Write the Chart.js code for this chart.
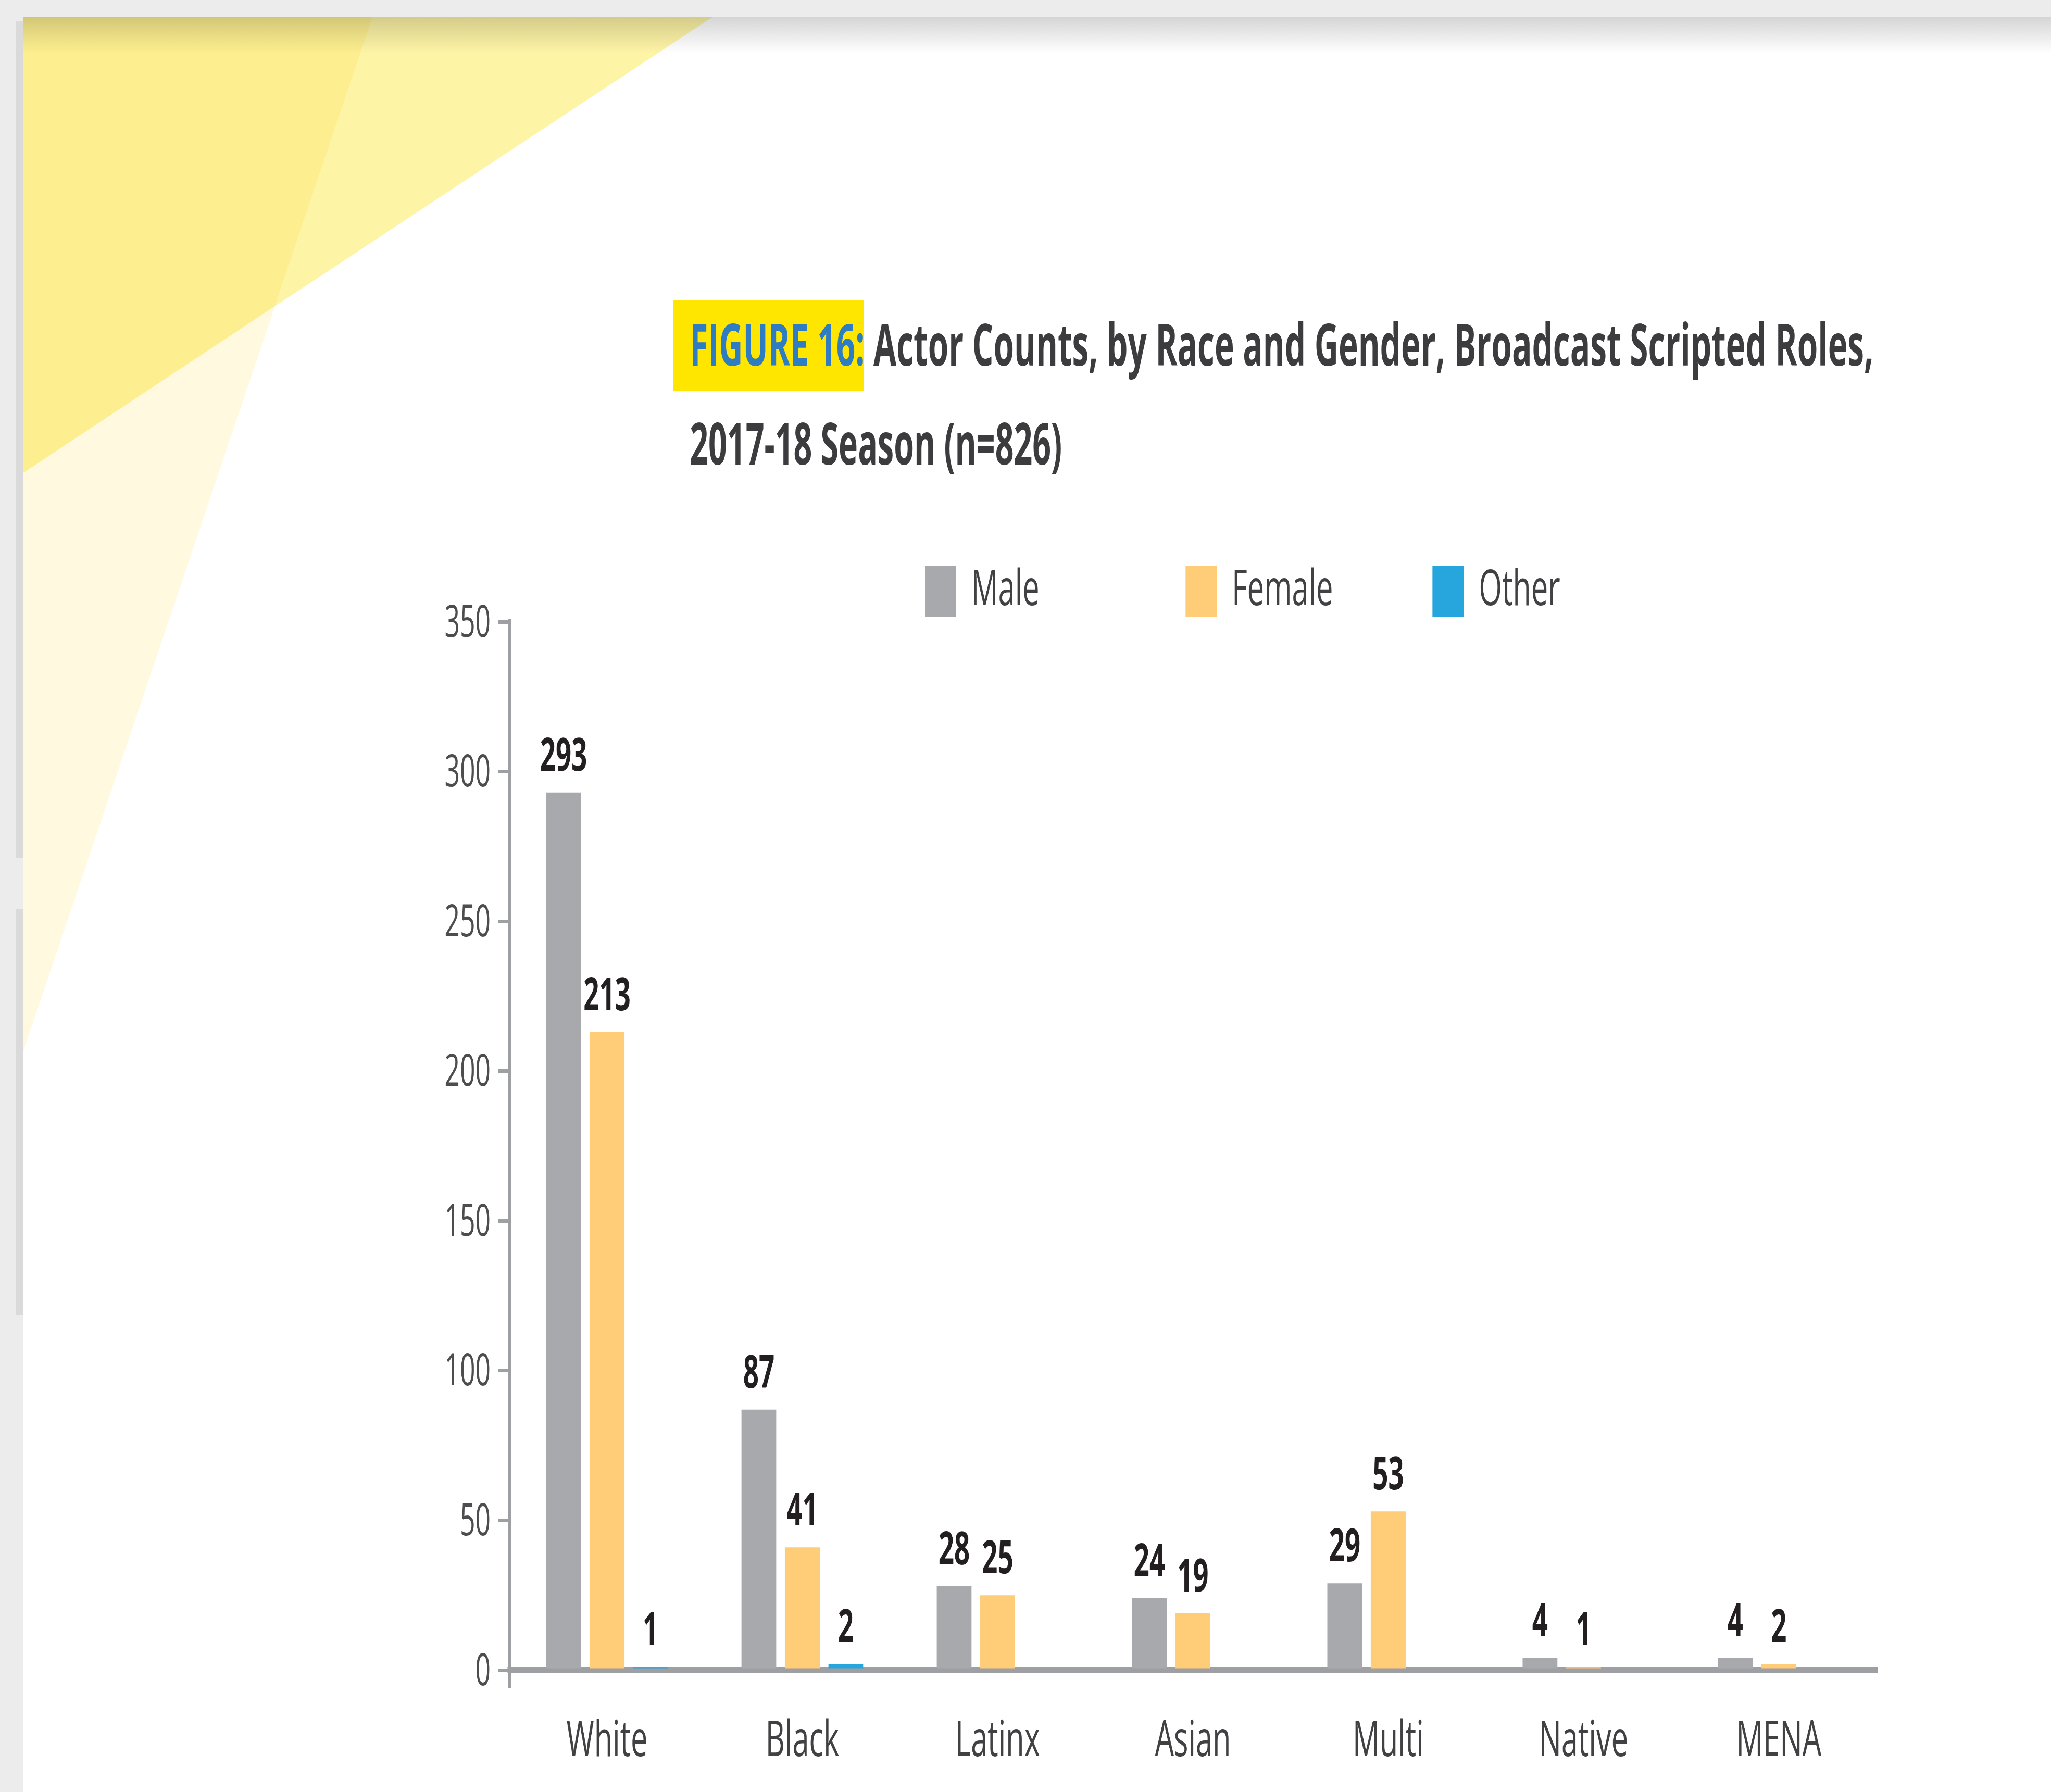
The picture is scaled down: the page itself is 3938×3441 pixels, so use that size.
<!DOCTYPE html>
<html>
<head>
<meta charset="utf-8">
<title>Figure 16: Actor Counts, by Race and Gender</title>
<script src="https://cdn.jsdelivr.net/npm/chart.js@4.4.1/dist/chart.umd.min.js"></script>
<style>
  html, body { margin: 0; padding: 0; }
  body { width: 3938px; height: 3441px; background: #ececec; position: relative; overflow: hidden; font-family: 'Open Sans', sans-serif; }
  #panel { position: absolute; left: 45px; top: 32px; right: 0; bottom: 0; background: #fff; }
  .edge { position: absolute; left: 30px; width: 15px; background: #dadada; }
  #deco { position: absolute; left: 0; top: 0; }
  #shade { position: absolute; left: 45px; right: 0; top: 32px; height: 70px; background: linear-gradient(rgba(0,0,0,0.17), rgba(0,0,0,0)); }
  #figbox { position: absolute; left: 1293px; top: 577px; width: 365px; height: 173px; background: #ffe600; }
  /* the whole chart is squeezed horizontally like the original figure */
  #stage { position: absolute; left: 0; top: 0; width: 6563px; height: 3441px; transform: scaleX(0.6); transform-origin: 0 0; }
  .tline { position: absolute; left: 2207px; white-space: nowrap; font-weight: 700; font-size: 112px; line-height: 112px; color: #3c3c3e; transform-origin: 0 0; }
  .tline .fig { color: #2e7dc2; }
  #chart { position: absolute; left: 0; top: 0; }
</style>
</head>
<body>
<div id="panel"></div>
<svg id="deco" width="3938" height="3441">
  <polygon points="45,32 716,32 528,588 45,908" fill="#fdef8f"/>
  <polygon points="716,32 1369,32 528,588" fill="#fef4a6"/>
  <polygon points="45,908 528,588 45,2018" fill="#fffadf"/>
</svg>
<div id="shade"></div>
<div class="edge" style="top:40px;height:1608px;"></div>
<div class="edge" style="top:1746px;height:780px;"></div>
<div id="figbox"></div>

<div id="stage">
  <canvas id="chart" width="6563" height="3441" style="width:6563px;height:3441px;"></canvas>
  <div class="tline" id="t1" style="top:603px;"><span class="fig">FIGURE 16:</span> Actor Counts, by Race and Gender, Broadcast Scripted Roles,</div>
  <div class="tline" id="t2" style="top:793px;">2017-18 Season (n=826)</div>
</div>

<script>
const categories = ['White', 'Black', 'Latinx', 'Asian', 'Multi', 'Native', 'MENA'];
const seriesNames = ['Male', 'Female', 'Other'];
const maleCounts = [293, 87, 28, 24, 29, 4, 4];
const femaleCounts = [213, 41, 25, 19, 53, 1, 2];
const otherCounts = [1, 2, 0, 0, 0, 0, 0];
const seriesColors = ['#a7a9ac', '#ffcc77', '#27a6de'];
const yTicks = [0, 50, 100, 150, 200, 250, 300, 350];

const SX = 0.6;                 // horizontal squeeze of #stage
const ux = px => px / SX;       // page px -> stage px (horizontal only)
const AXIS = '#9d9fa2';
const LEG_PAD = ux(191);
const PLOT_TOP = 1086;          // legend box top, page px

// fit the title lines to the widths of the original
function fitTitle() {
  [['t1', 3597 - 1324], ['t2', 2039 - 1324]].forEach(([id, w]) => {
    const el = document.getElementById(id);
    el.style.transform = 'scaleX(' + (ux(w) / el.offsetWidth) + ')';
  });
}
fitTitle();
if (document.fonts) document.fonts.ready.then(fitTitle);

// legend sits right of the plot centre in the original
const legendShift = {
  id: 'legendShift',
  afterLayout(chart, args, opts) {
    const lg = chart.legend;
    if (!lg || !lg.lineWidths) return;
    const pad = lg.options.labels.padding;
    const start = (lg.left + pad + lg.right - lg.lineWidths[0]) / 2;
    const dx = opts.left - start;
    lg.left += dx;
    lg.right += dx;
  }
};

const valueLabels = {
  id: 'valueLabels',
  afterDatasetsDraw(chart) {
    const ctx = chart.ctx;
    ctx.save();
    ctx.font = '700 88px "Open Sans"';
    ctx.fillStyle = '#231f20';
    ctx.textAlign = 'center';
    ctx.textBaseline = 'alphabetic';
    chart.data.datasets.forEach((ds, i) => {
      chart.getDatasetMeta(i).data.forEach((bar, j) => {
        const v = ds.data[j];
        if (!v) return;
        ctx.fillText(String(v), bar.x, bar.y - 42);
      });
    });
    ctx.restore();
  }
};

new Chart(document.getElementById('chart'), {
  type: 'bar',
  data: {
    labels: categories,
    datasets: [maleCounts, femaleCounts, otherCounts].map((d, i) => ({
      label: seriesNames[i],
      data: d,
      backgroundColor: seriesColors[i],
      categoryPercentage: 0.668,
      barPercentage: 0.8
    }))
  },
  options: {
    responsive: false,
    animation: false,
    devicePixelRatio: 1,
    layout: { padding: { left: 0, right: ux(3938 - 3603), top: PLOT_TOP - LEG_PAD, bottom: 0 } },
    plugins: {
      legend: {
        position: 'top',
        labels: {
          boxWidth: ux(60), boxHeight: 98, padding: LEG_PAD, color: '#414042',
          font: { family: 'Open Sans', size: 96 },
          // first item gets a wider slot, as in the original spacing
          generateLabels: chart => {
            const items = Chart.defaults.plugins.legend.labels.generateLabels(chart);
            items[0].text += '      ';
            return items;
          }
        }
      },
      tooltip: { enabled: false },
      legendShift: { left: ux(1776) }
    },
    scales: {
      x: {
        grid: { drawOnChartArea: false, tickLength: 35, lineWidth: ux(6), color: c => c.index === 0 ? AXIS : 'rgba(0,0,0,0)' },
        border: { color: AXIS, width: 12 },
        ticks: { color: '#414042', padding: 45, font: { family: 'Open Sans', size: 96 } },
        afterFit: s => { s.height = 3441 - 3207; }
      },
      y: {
        min: 0,
        max: 350,
        afterBuildTicks: s => { s.ticks = yTicks.map(v => ({ value: v })); },
        grid: { drawOnChartArea: false, tickLength: ux(22), lineWidth: 7, color: AXIS },
        border: { color: AXIS, width: ux(6) },
        ticks: { color: '#4d4d4f', padding: ux(14), labelOffset: 4, font: { family: 'Open Sans', size: 86 } },
        afterFit: s => { s.width = ux(978); }
      }
    }
  },
  plugins: [legendShift, valueLabels]
});
</script>
</body>
</html>
